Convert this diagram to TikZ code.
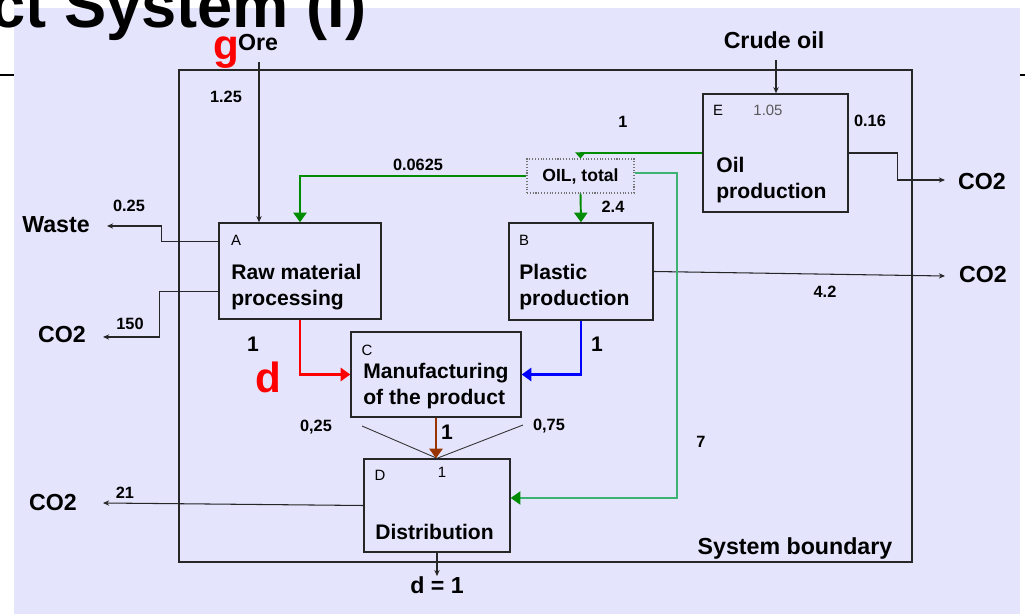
\documentclass[tikz,border=0pt]{standalone}
\usepackage{fontspec}
\setmainfont{Liberation Sans}
\usetikzlibrary{arrows.meta,calc}
\definecolor{slidebg}{RGB}{228,228,252}
\definecolor{oilgreen}{RGB}{0,140,0}
\definecolor{palegreen}{RGB}{60,179,113}
\definecolor{plasticblue}{RGB}{0,0,255}
\definecolor{productbrown}{RGB}{153,51,0}
\tikzset{
  procbox/.style={draw=black!85,line width=0.8pt,inner sep=0pt},
  boxletter/.style={font=\fontsize{8.5}{10}\selectfont,inner sep=0pt},
  boxtext/.style={font=\bfseries\fontsize{12}{14.5}\selectfont,align=left,anchor=west,inner sep=0pt},
  extlabel/.style={font=\bfseries\fontsize{13.2}{16}\selectfont,inner sep=0pt},
  flowval/.style={font=\bfseries\fontsize{9.3}{11}\selectfont,inner sep=0pt},
  bigval/.style={font=\bfseries\fontsize{12}{14}\selectfont,inner sep=0pt},
  redmark/.style={font=\bfseries\fontsize{24}{28}\selectfont,text=red,inner sep=0pt,anchor=base},
  thinflow/.style={->,line width=0.6pt,black!85},
  colflow/.style={-{Triangle[length=5.5pt,width=7.5pt]},line width=1.7pt}
}
\begin{document}
\begin{tikzpicture}[x=0.02cm,y=-0.02cm,>={Stealth[length=3.5pt,width=3pt]}]
\useasboundingbox (0,0) rectangle (1025,614);
\fill[white] (0,0) rectangle (1025,614);
\draw[line width=0.9pt] (0,75) -- (1025,75);
\fill[slidebg] (14,8) rectangle (1020,614);
\node[anchor=base west,font=\bfseries\fontsize{36}{40}\selectfont,inner sep=0pt] (title) at (-10,28) {ct System (I)};

% system boundary and processes
\node[draw=black!85,line width=0.8pt,minimum width=14.66cm,minimum height=9.84cm] (boundary) at (545.5,316) {};
\node[procbox,minimum width=3.24cm,minimum height=1.92cm] (A) at (300,271) {};
\node[procbox,minimum width=2.88cm,minimum height=1.94cm] (B) at (581,271.5) {};
\node[procbox,minimum width=3.4cm,minimum height=1.7cm] (C) at (436,374.5) {};
\node[procbox,minimum width=2.92cm,minimum height=1.86cm] (D) at (437,505.5) {};
\node[procbox,minimum width=2.9cm,minimum height=2.36cm] (E) at (775.5,153) {};
\node[draw=black!55,densely dotted,line width=0.6pt,minimum width=2.14cm,minimum height=0.68cm,font=\bfseries\fontsize{10}{12}\selectfont] (oil) at (580.5,176) {OIL, total};

\node[boxletter] (Aid) at (236,240) {A};
\node[boxletter] (Bid) at (524,240) {B};
\node[boxletter] (Cid) at (367,350) {C};
\node[boxletter] (Did) at (380,475) {D};
\node[boxletter] (Eid) at (718,110) {E};
\node[boxletter,text=black!65] (Eval) at (768,110) {1.05};
\node[boxletter] (Dval) at (442,472) {1};
\node[boxtext] (Atext) at (231,287) {Raw material\\processing};
\node[boxtext] (Btext) at (519,287) {Plastic\\production};
\node[boxtext] (Ctext) at (363,386) {Manufacturing\\of the product};
\node[boxtext] (Dtext) at (375,532) {Distribution};
\node[boxtext] (Etext) at (716,180) {Oil\\production};
\node[extlabel,anchor=south east] (sblabel) at ($(boundary.south east)+(-20,-3)$) {System boundary};

% inputs and outputs
\node[extlabel] (ore) at (258,43) {Ore};
\node[extlabel] (crude) at (774,40) {Crude oil};
\node[extlabel] (co2E) at (982,182) {CO2};
\node[extlabel] (co2B) at (983,275) {CO2};
\node[extlabel] (waste) at (56,225) {Waste};
\node[extlabel] (co2A) at (62,335) {CO2};
\node[extlabel] (co2D) at (53,503) {CO2};
\node[extlabel] (done) at (437,585) {d = 1};
\coordinate (oretop) at (259,62);
\coordinate (crudetop) at (776,60);
\coordinate (co2Eend) at (945,180);
\coordinate (co2Bend) at (945,276);
\coordinate (wasteend) at (107,226);
\coordinate (co2Aend) at (103,337);
\coordinate (co2Dend) at (103,503);
\coordinate (splitL) at (362,426);
\coordinate (splitR) at (523,425);
\coordinate (bendD) at (677,498);

\draw[thinflow] (oretop) -- (oretop |- A.north);
\draw[thinflow] (crudetop) -- (crudetop |- E.north);
\draw[thinflow] (E.east) -- ++(49,0) |- (co2Eend);
\draw[thinflow] (B.east) -- (co2Bend);
\draw[thinflow] ($(A.north west)+(0,19)$) -- ++(-57,0) |- (wasteend);
\draw[thinflow] ($(A.north west)+(0,69)$) -- ++(-59,0) |- (co2Aend);
\draw[thinflow] (D.west) -- (co2Dend);
\draw[thinflow] (D.south) -- (done.north);
\draw[line width=0.5pt,black!80] (splitL) -- (D.north) -- (splitR);

% coloured flows
\draw[colflow,red] (A.south) |- (C.west);
\draw[colflow,plasticblue] (B.south) |- (C.east);
\draw[colflow,productbrown] (C.south) -- (C.south |- D.north);
\draw[oilgreen,line width=1.7pt,-{Triangle[length=3.5pt,width=6pt]}] (E.west) -| (oil.north);
\draw[colflow,oilgreen,line width=1.1pt] (oil.west) -| (A.north);
\draw[colflow,oilgreen,line width=1.1pt] (oil.south) -- (B.north);
\draw[palegreen,line width=0.8pt,-{Triangle[length=5.5pt,width=7.5pt,color=oilgreen]}] ($(oil.east)+(0,-3)$) -| (bendD) -- (bendD -| D.east);

% flow values
\node[flowval] (v125) at (226,97) {1.25};
\node[flowval] (v0625) at (418,165) {0.0625};
\node[flowval] (v24) at (613,207) {2.4};
\node[flowval] (voil) at (623,122) {1};
\node[flowval] (v016) at (870,121) {0.16};
\node[flowval] (v025) at (129,206) {0.25};
\node[flowval] (v150) at (130,324) {150};
\node[flowval] (v42) at (825,292) {4.2};
\node[flowval] (vsplitL) at (316,427) {0,25};
\node[flowval] (vsplitR) at (549,426) {0,75};
\node[flowval] (v7) at (701,442) {7};
\node[flowval] (v21) at (125,493) {21};
\node[bigval] (vA) at (253,344) {1};
\node[bigval] (vB) at (597,344) {1};
\node[bigval] (vC) at (447,432) {1};
\node[redmark] (gmark) at (226,60) {g};
\node[redmark] (dmark) at (268,393) {d};
\end{tikzpicture}
\end{document}
